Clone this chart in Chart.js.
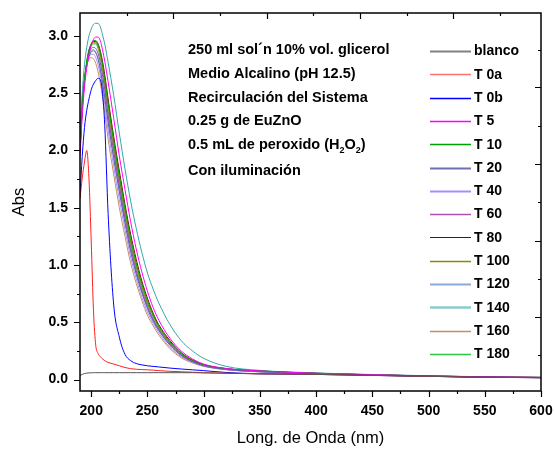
<!DOCTYPE html>
<html><head><meta charset="utf-8">
<script src="https://cdn.jsdelivr.net/npm/chart.js@4/dist/chart.umd.min.js"></script>
<style>html,body{margin:0;padding:0;background:#fff}#wrap{width:555px;height:450px}</style>
</head><body><div id="wrap"><canvas id="c" width="555" height="450"></canvas></div>
<script>
const wavelengths = [190,192,194,196,198,200,202,204,206,208,210,212,215,220,225,230,235,240,245,250,255,260,270,280,290,300,320,350,400,450,500,550,600];
const seriesNames = ["blanco","T 0a","T 0b","T 5","T 10","T 20","T 40","T 60","T 80","T 100","T 120","T 140","T 160","T 180"];
const blanco = [0.035,0.045,0.052,0.056,0.058,0.059,0.06,0.06,0.06,0.06,0.06,0.06,0.06,0.06,0.06,0.06,0.06,0.06,0.06,0.06,0.06,0.06,0.06,0.06,0.06,0.058,0.055,0.05,0.045,0.036,0.028,0.02,0.016];
const t0a = [1.58,1.76,1.9,2.0,1.75,1.2,0.6,0.3,0.23,0.2,0.18,0.165,0.15,0.135,0.12,0.105,0.095,0.09,0.087,0.085,0.082,0.078,0.072,0.068,0.064,0.06,0.055,0.05,0.045,0.036,0.028,0.02,0.016];
const t0b = [1.6,1.95,2.2,2.35,2.45,2.53,2.58,2.61,2.63,2.62,2.5,2.22,1.45,0.65,0.37,0.22,0.165,0.14,0.128,0.12,0.115,0.11,0.1,0.092,0.085,0.078,0.062,0.05,0.045,0.036,0.028,0.02,0.016];
const t5 = [1.95,2.3,2.55,2.72,2.84,2.92,2.97,2.99,2.99,2.96,2.88,2.78,2.6,2.28,1.95,1.66,1.38,1.14,0.94,0.77,0.63,0.52,0.36,0.25,0.18,0.135,0.097,0.075,0.055,0.042,0.031,0.023,0.019];
const t10 = [2.0,2.38,2.62,2.78,2.88,2.93,2.96,2.96,2.93,2.86,2.76,2.63,2.42,2.09,1.78,1.5,1.24,1.02,0.84,0.69,0.57,0.47,0.33,0.23,0.17,0.13,0.095,0.075,0.055,0.042,0.031,0.023,0.019];
const t20 = [2.1,2.42,2.62,2.74,2.82,2.86,2.87,2.85,2.8,2.71,2.59,2.46,2.25,1.93,1.64,1.37,1.12,0.92,0.76,0.62,0.51,0.43,0.3,0.21,0.155,0.12,0.088,0.068,0.05,0.039,0.029,0.021,0.017];
const t40 = [2.12,2.44,2.62,2.74,2.81,2.84,2.84,2.81,2.75,2.66,2.54,2.4,2.18,1.86,1.57,1.31,1.07,0.88,0.72,0.59,0.49,0.41,0.28,0.2,0.15,0.118,0.087,0.068,0.05,0.039,0.029,0.021,0.017];
const t60 = [2.03,2.39,2.61,2.75,2.84,2.89,2.9,2.89,2.85,2.77,2.66,2.53,2.31,1.99,1.69,1.41,1.16,0.95,0.78,0.64,0.53,0.44,0.31,0.215,0.16,0.125,0.09,0.07,0.052,0.04,0.03,0.022,0.018];
const t80 = [1.98,2.35,2.6,2.76,2.87,2.93,2.95,2.95,2.93,2.87,2.78,2.66,2.45,2.12,1.82,1.53,1.27,1.05,0.86,0.71,0.58,0.48,0.34,0.235,0.17,0.13,0.095,0.074,0.054,0.041,0.031,0.023,0.018];
const t100 = [2.0,2.37,2.61,2.77,2.87,2.92,2.94,2.94,2.91,2.84,2.73,2.6,2.39,2.06,1.75,1.47,1.21,1.0,0.82,0.67,0.56,0.46,0.32,0.225,0.165,0.128,0.093,0.072,0.053,0.041,0.03,0.022,0.018];
const t120 = [2.08,2.41,2.61,2.74,2.82,2.87,2.88,2.86,2.81,2.72,2.6,2.47,2.26,1.94,1.65,1.37,1.13,0.93,0.76,0.63,0.52,0.43,0.3,0.21,0.155,0.12,0.088,0.069,0.051,0.039,0.029,0.021,0.017];
const t140 = [2.1,2.5,2.75,2.9,3.0,3.06,3.1,3.11,3.11,3.08,3.01,2.93,2.77,2.48,2.15,1.84,1.56,1.32,1.11,0.93,0.79,0.67,0.48,0.34,0.25,0.185,0.115,0.08,0.058,0.044,0.033,0.024,0.019];
const t160 = [2.15,2.46,2.63,2.74,2.8,2.81,2.8,2.76,2.69,2.59,2.47,2.33,2.1,1.79,1.5,1.25,1.02,0.84,0.69,0.56,0.47,0.39,0.27,0.19,0.145,0.115,0.086,0.067,0.05,0.038,0.028,0.021,0.017];
const t180 = [2.02,2.38,2.61,2.76,2.86,2.91,2.93,2.93,2.89,2.81,2.7,2.57,2.35,2.03,1.72,1.44,1.19,0.98,0.8,0.66,0.55,0.45,0.32,0.22,0.162,0.126,0.092,0.071,0.053,0.041,0.03,0.022,0.018];
const xTicks = [200,250,300,350,400,450,500,550,600];
const xMinorTicks = [225,275,325,375,425,475,525,575];
const yTicks = [0.0,0.5,1.0,1.5,2.0,2.5,3.0];
const yMinorTicks = [0.25,0.75,1.25,1.75,2.25,2.75];
const topMajorTicks = [273,356,439,522];
const topMinorTicks = [231.5,314.5,397.5,480.5,563.5];
const rightMajorTicks = [0.55,1.21,1.88,2.55];
const rightMinorTicks = [0.21,0.88,1.55,2.21,2.88];
const noteLines = ["250 ml sol\u00b4n 10% vol. glicerol","Medio Alcalino (pH 12.5)","Recirculaci\u00f3n del Sistema","0.25 g de EuZnO","0.5 mL de peroxido (H|2|O|2|)","Con iluminaci\u00f3n"];

const allSeries = [blanco,t0a,t0b,t5,t10,t20,t40,t60,t80,t100,t120,t140,t160,t180];
const lineColors = ["#555555","#ff2020","#0000ff","#ff00ff","#00a000","#6060b0","#a98bff","#a040a0","#800000","#8a8a00","#7fa0d8","#30a8a8","#c09060","#30c840"];
const legendColors = ["#808080","#ff7070","#0000ff","#ff00ff","#00a000","#7070b0","#a98bff","#b050b0","#800000","#8a8a00","#8aaad8","#88cccc","#c09060","#30c840"];
const legendWidths = [2,1.5,1.5,1.5,1.5,2,2,1.5,1.2,1.5,2,2.5,1.5,1.5];
const FONT = "'Liberation Sans', Arial, sans-serif";

const datasets = allSeries.map((arr,i)=>({
  label: seriesNames[i],
  data: wavelengths.map((w,j)=>({x:w,y:arr[j]})),
  borderColor: lineColors[i],
  borderWidth: 1,
  pointRadius: 0,
  fill: false,
  cubicInterpolationMode: 'monotone'
}));

const decor = {
  id:'decor',
  afterDraw(chart){
    const ctx = chart.ctx, a = chart.chartArea, xs = chart.scales.x, ys = chart.scales.y;
    ctx.save();
    ctx.strokeStyle = '#000'; ctx.lineWidth = 1.5;
    ctx.strokeRect(a.left, a.top, a.right-a.left, a.bottom-a.top);
    ctx.lineWidth = 1.2;
    ctx.beginPath();
    xTicks.forEach(v=>{const p=Math.round(xs.getPixelForValue(v))+0.5; ctx.moveTo(p,a.bottom); ctx.lineTo(p,a.bottom+6);});
    xMinorTicks.forEach(v=>{const p=Math.round(xs.getPixelForValue(v))+0.5; ctx.moveTo(p,a.bottom); ctx.lineTo(p,a.bottom+3);});
    topMajorTicks.forEach(v=>{const p=Math.round(xs.getPixelForValue(v))+0.5; ctx.moveTo(p,a.top); ctx.lineTo(p,a.top+6);});
    topMinorTicks.forEach(v=>{const p=Math.round(xs.getPixelForValue(v))+0.5; ctx.moveTo(p,a.top); ctx.lineTo(p,a.top+3);});
    yTicks.forEach(v=>{const p=Math.round(ys.getPixelForValue(v))+0.5; ctx.moveTo(a.left,p); ctx.lineTo(a.left-6,p);});
    yMinorTicks.forEach(v=>{const p=Math.round(ys.getPixelForValue(v))+0.5; ctx.moveTo(a.left,p); ctx.lineTo(a.left-3,p);});
    rightMajorTicks.forEach(v=>{const p=Math.round(ys.getPixelForValue(v))+0.5; ctx.moveTo(a.right,p); ctx.lineTo(a.right-6,p);});
    rightMinorTicks.forEach(v=>{const p=Math.round(ys.getPixelForValue(v))+0.5; ctx.moveTo(a.right,p); ctx.lineTo(a.right-3,p);});
    ctx.stroke();
    ctx.fillStyle = '#000';
    ctx.textBaseline = 'middle';
    ctx.textAlign = 'left';
    const noteY = [50,74,97.5,121,145,171];
    noteLines.forEach((t,i)=>{
      let x = 188;
      const parts = t.split('|');
      parts.forEach((p,k)=>{
        if(k%2===1){ ctx.font = "bold 9px "+FONT; ctx.fillText(p,x,noteY[i]+6); x += ctx.measureText(p).width; }
        else { ctx.font = "bold 14.5px "+FONT; ctx.fillText(p,x,noteY[i]); x += ctx.measureText(p).width; }
      });
    });
    chart.data.datasets.forEach((d,i)=>{
      const y = 51 + i*23.3;
      ctx.strokeStyle = legendColors[i]; ctx.lineWidth = legendWidths[i];
      ctx.beginPath(); ctx.moveTo(430,Math.round(y)+0.5); ctx.lineTo(471,Math.round(y)+0.5); ctx.stroke();
      ctx.font = "bold 14px "+FONT; ctx.fillStyle='#000';
      ctx.fillText(d.label,474,y+0.5);
    });
    ctx.restore();
  }
};

new Chart(document.getElementById('c'),{
  type:'line',
  data:{datasets},
  options:{
    responsive:false, animation:false, maintainAspectRatio:false,
    layout:{padding:{left:0,top:13,right:14,bottom:0}},
    plugins:{legend:{display:false},tooltip:{enabled:false}},
    scales:{
      x:{type:'linear',min:190,max:600,
        afterFit(s){s.height=59; s.paddingLeft=0; s.paddingRight=0;},
        afterBuildTicks(s){s.ticks = xTicks.map(v=>({value:v}));},
        grid:{display:false,drawTicks:false}, border:{display:false},
        ticks:{padding:12,color:'#000',font:{family:FONT,size:14,weight:'bold'},maxRotation:0,autoSkip:false},
        title:{display:true,text:'Long. de Onda (nm)',color:'#000',font:{family:FONT,size:16.5},padding:{top:4,bottom:2}}
      },
      y:{type:'linear',min:-0.1,max:3.2,
        afterFit(s){s.width=80; s.paddingTop=0; s.paddingBottom=0;},
        afterBuildTicks(s){s.ticks = yTicks.map(v=>({value:v}));},
        grid:{display:false,drawTicks:false}, border:{display:false},
        ticks:{padding:12,color:'#000',font:{family:FONT,size:14,weight:'bold'},callback:v=>v.toFixed(1)},
        title:{display:true,text:'Abs',color:'#000',font:{family:FONT,size:16.5},padding:{top:10,bottom:4}}
      }
    }
  },
  plugins:[decor]
});
</script></body></html>
